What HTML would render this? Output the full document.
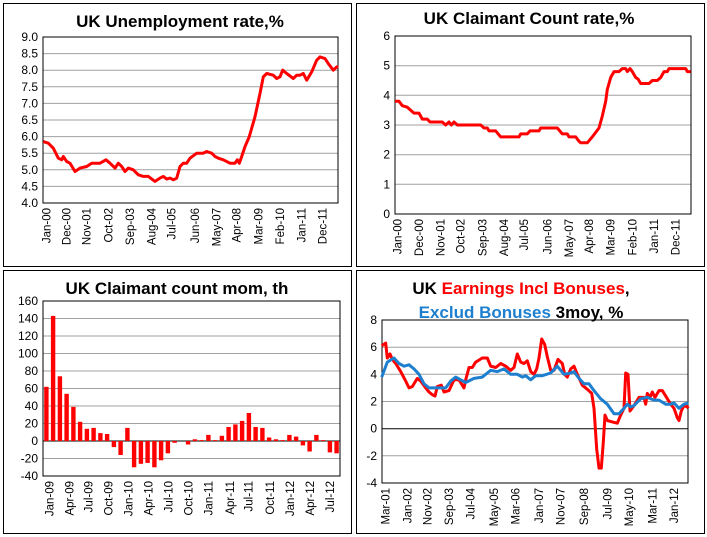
<!DOCTYPE html>
<html><head><meta charset="utf-8"><style>
body{margin:0;background:#fff;}
svg{display:block;font-family:"Liberation Sans",sans-serif;}
</style></head><body>
<svg id="s" width="707" height="537" xmlns="http://www.w3.org/2000/svg"></svg>
<script>
var s=document.getElementById('s'),h='';
h+='<rect x="0" y="0" width="707" height="537" fill="#fff"/>';
[[3,3],[356,3],[3,270],[356,270]].forEach(function(p){h+='<rect x="'+(p[0]+.5)+'" y="'+(p[1]+.5)+'" width="348" height="263" fill="none" stroke="#000" stroke-width="1"/>';});
function chart(o){
 var x0=o.x0,x1=o.x1,y0=o.y0,y1=o.y1;
 function Y(v){return y1-(v-o.vmin)/(o.vmax-o.vmin)*(y1-y0);}
 for(var v=o.vmin;v<=o.vmax+1e-9;v+=o.step){
  var y=Y(v).toFixed(1);
  if(v>o.vmin&&v<o.vmax) h+='<line x1="'+x0+'" x2="'+x1+'" y1="'+y+'" y2="'+y+'" stroke="'+(Math.abs(v)<1e-9&&o.zeroBlack?'#000':'#a0a0a0')+'" stroke-width="1"/>';
  h+='<text x="'+(x0-5)+'" y="'+(Y(v)+4)+'" font-size="12" text-anchor="end" fill="#000">'+(o.fmt?v.toFixed(1):Math.round(v))+'</text>';
 }
 h+='<rect x="'+x0+'" y="'+y0+'" width="'+(x1-x0)+'" height="'+(y1-y0)+'" fill="none" stroke="#000" stroke-width="1"/>';
 o.labels.forEach(function(l){var lx=o.ox+l[0]/3+4;h+='<text transform="translate('+lx+','+(y1+5)+') rotate(-90)" font-size="11.5" text-anchor="end" fill="#000">'+l[1]+'</text>';});
 (o.series||[]).forEach(function(se){
  var pts=se.d.map(function(p){return (o.ox+p[0]/3).toFixed(1)+','+Y(p[1]).toFixed(1);}).join(' ');
  h+='<polyline points="'+pts+'" fill="none" stroke="'+se.c+'" stroke-width="3" stroke-linejoin="round"/>';
 });
 if(o.bars){var w=(x1-x0)/o.bars.length;o.bars.forEach(function(v,i){var cx=x0+(i+0.5)*w,a=Y(v),b=Y(0);h+='<rect x="'+(cx-2.2).toFixed(1)+'" y="'+Math.min(a,b).toFixed(1)+'" width="4.4" height="'+Math.abs(a-b).toFixed(1)+'" fill="#f00"/>';});}
}
function L(xs,ns){return xs.map(function(x,i){return [x,ns[i]];});}
function P(a){var r=[];for(var i=0;i<a.length;i+=2)r.push([a[i],a[i+1]]);return r;}
// chart 1
chart({ox:0,x0:43,x1:338,y0:37,y1:203,vmin:4,vmax:9,step:0.5,fmt:1,
labels:L([140,200,260,325,390,455,515,585,650,710,775,840,905,968],['Jan-00','Dec-00','Nov-01','Oct-02','Sep-03','Aug-04','Jul-05','Jun-06','May-07','Apr-08','Mar-09','Feb-10','Jan-11','Dec-11']),
series:[{c:'#f00',d:P([130,5.85,145,5.8,160,5.65,175,5.35,185,5.3,190,5.4,200,5.25,210,5.2,225,4.95,240,5.05,260,5.1,275,5.2,300,5.2,318,5.3,330,5.2,345,5.05,355,5.2,365,5.1,375,4.95,385,5.05,400,5.0,415,4.85,430,4.8,445,4.8,465,4.65,480,4.75,490,4.8,500,4.72,510,4.75,520,4.7,530,4.75,540,5.1,550,5.2,560,5.2,570,5.35,590,5.5,600,5.5,610,5.5,620,5.55,635,5.5,645,5.4,655,5.35,670,5.3,690,5.2,705,5.2,712,5.3,718,5.2,725,5.4,735,5.7,748,6.0,765,6.6,780,7.3,790,7.8,800,7.9,820,7.85,830,7.75,840,7.8,848,8.0,860,7.9,880,7.75,890,7.85,900,7.85,910,7.9,920,7.7,935,7.95,950,8.3,960,8.4,975,8.35,985,8.2,1000,8.0,1010,8.1,1015,8.1])}]});
// chart 2
chart({ox:354,x0:395,x1:691,y0:36,y1:214,vmin:0,vmax:6,step:1,
labels:L([130,195,260,320,385,450,510,580,645,705,770,835,900,965],['Jan-00','Dec-00','Nov-01','Oct-02','Sep-03','Aug-04','Jul-05','Jun-06','May-07','Apr-08','Mar-09','Feb-10','Jan-11','Dec-11']),
series:[{c:'#f00',d:P([123,3.8,135,3.8,145,3.65,160,3.6,170,3.5,180,3.4,195,3.4,205,3.2,220,3.2,228,3.1,265,3.1,275,3.0,285,3.1,292,3.0,300,3.1,310,3.0,380,3.0,390,2.9,400,2.9,405,2.8,425,2.8,440,2.6,495,2.6,500,2.7,520,2.7,528,2.8,555,2.8,560,2.9,610,2.9,625,2.7,640,2.7,645,2.6,665,2.6,675,2.45,680,2.4,700,2.4,715,2.6,735,2.9,745,3.3,755,3.8,760,4.2,770,4.6,780,4.8,795,4.8,805,4.9,815,4.9,820,4.8,828,4.9,835,4.8,845,4.6,852,4.55,860,4.4,885,4.4,895,4.5,910,4.5,920,4.6,930,4.8,940,4.8,945,4.9,995,4.9,1000,4.8,1010,4.8])}]});
// chart 3
chart({ox:0,x0:43,x1:340,y0:301,y1:476,vmin:-40,vmax:160,step:20,zeroBlack:1,
labels:L([148,208,265,325,385,445,505,565,625,690,745,810,870,930,990],['Jan-09','Apr-09','Jul-09','Oct-09','Jan-10','Apr-10','Jul-10','Oct-10','Jan-11','Apr-11','Jul-11','Oct-11','Jan-12','Apr-12','Jul-12']).map(function(l){return [l[0],l[1]];}),
bars:[62,143,74,54,39,22,14,15,9,8,-7,-16,15,-30,-26,-25,-30,-22,-14,-2,0,-4,2,1,7,1,6,16,19,23,32,16,15,4,2,1,7,5,-5,-12,7,1,-13,-14]});
// chart 4
chart({ox:354,x0:382,x1:688,y0:320,y1:483,vmin:-4,vmax:8,step:2,zeroBlack:1,
labels:L([95,160,220,285,350,420,485,555,620,690,760,825,895,960],['Mar-01','Jan-02','Nov-02','Sep-03','Jul-04','May-05','Mar-06','Jan-07','Nov-07','Sep-08','Jul-09','May-10','Mar-11','Jan-12']),
series:[{c:'#f00',d:P([83,6.1,95,6.3,100,5.2,108,5.5,115,5.1,125,4.8,140,4.2,155,3.5,165,3.0,175,3.1,190,3.7,200,3.5,215,3.0,225,2.7,235,2.5,243,2.4,250,3.1,262,3.2,270,2.7,285,2.8,300,3.6,315,3.6,330,3.0,335,3.6,345,4.5,355,4.5,365,4.9,385,5.2,400,5.2,410,4.6,425,4.5,440,4.8,455,4.6,470,4.3,480,4.5,490,5.5,500,4.9,510,4.8,520,5.0,530,4.2,540,4.0,548,4.4,555,5.2,563,6.6,572,6.2,580,5.3,590,4.3,600,4.3,612,5.1,625,4.8,632,4.0,640,3.8,650,4.4,660,4.6,670,4.0,685,3.2,700,2.9,713,2.6,720,1.5,728,-1.5,735,-2.9,742,-2.9,748,-1.0,753,1.0,760,0.6,775,0.5,790,0.4,800,1.0,810,1.5,815,4.1,822,4.0,828,1.3,840,1.7,855,2.3,870,2.3,875,1.8,880,2.6,888,2.3,895,2.7,903,2.3,915,2.8,925,2.8,935,2.4,950,1.8,960,1.5,970,0.8,975,0.6,982,1.3,990,1.7,1000,1.6,1003,1.5])},
{c:'#1f7fcf',d:P([83,3.8,100,4.9,120,5.2,135,4.8,150,4.6,165,4.7,180,4.4,195,4.0,210,3.3,225,3.0,250,3.0,275,3.0,290,3.5,305,3.8,320,3.6,335,3.4,360,3.7,385,3.8,410,4.3,430,4.2,450,4.4,470,4.0,490,4.0,505,3.8,515,3.9,530,3.6,545,3.9,565,3.9,590,4.1,610,4.6,630,4.0,650,4.1,660,4.2,675,3.7,690,3.3,705,3.3,720,2.8,740,2.2,760,1.8,780,1.1,795,1.1,810,1.5,820,1.8,830,1.6,840,1.7,860,2.2,880,2.3,900,2.1,915,2.1,935,1.8,950,1.8,960,1.9,975,1.5,990,1.8,1003,1.9])}]});
// titles
h+='<text x="180" y="27" font-size="17" font-weight="bold" text-anchor="middle">UK Unemployment rate,%</text>';
h+='<text x="529" y="24" font-size="17" font-weight="bold" text-anchor="middle">UK Claimant Count rate,%</text>';
h+='<text x="177" y="294" font-size="17" font-weight="bold" text-anchor="middle">UK Claimant count mom, th</text>';
h+='<text x="521" y="294" font-size="17" font-weight="bold" text-anchor="middle">UK <tspan fill="#f00">Earnings Incl Bonuses</tspan>,</text>';
h+='<text x="521" y="318" font-size="17" font-weight="bold" text-anchor="middle"><tspan fill="#1f7fcf">Exclud Bonuses</tspan> 3moy, %</text>';
s.innerHTML=h;
</script>
</body></html>
